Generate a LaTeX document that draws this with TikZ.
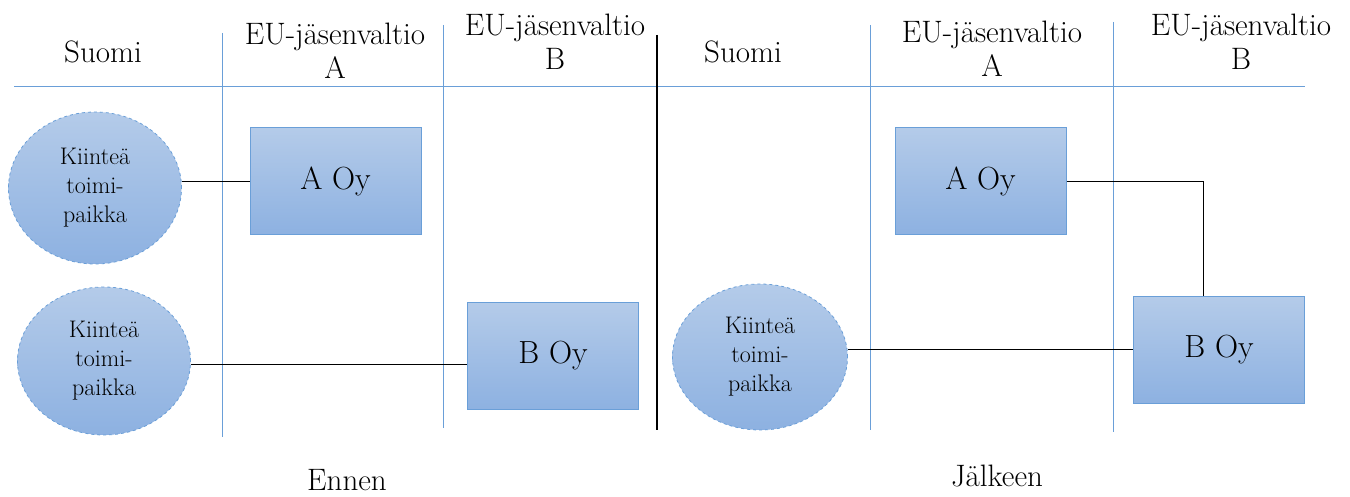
\documentclass[tikz,border=0pt]{standalone}
\usepackage{tikz}
\usetikzlibrary{shapes.geometric}
\usetikzlibrary{positioning}
\definecolor{gridblue}{HTML}{6A9FD8}
\definecolor{boxtop}{HTML}{B4CBE9}
\definecolor{boxbot}{HTML}{8DB1E1}
\tikzset{grid/.style = {draw=gridblue, line width = 1}}
\tikzset{yhtio/.style = {draw=gridblue, line width = 1, top color=boxtop, bottom color=boxbot,
                         minimum width = 171, minimum height = 107, inner sep = 0,
                         font=\fontsize{32}{36}\selectfont}}
\tikzset{kiintea/.style = {ellipse, draw=gridblue, dashed, line width = 0.8, top color=boxtop,
                           bottom color=boxbot, inner sep = 0, align=center,
                           font=\fontsize{24}{29}\selectfont}}
\tikzset{otsikko/.style = {align=center, font=\fontsize{31}{34}\selectfont}}
\tikzset{yhteys/.style = {draw=black, line width = 1}}

\begin{document}
\begin{tikzpicture}[x=1pt, y=-1pt]
      \useasboundingbox (0, 0) rectangle (1350, 497);
      % ruudukko
      \draw [grid] (14, 87) -- (1305, 87);
      \draw [grid] (222, 33) -- (222, 437);
      \draw [grid] (443, 25) -- (443, 428);
      \draw [grid] (870, 25) -- (870, 430);
      \draw [grid] (1113, 22) -- (1113, 432);
      \draw [line width = 2.5] (657, 35) -- (657, 430);
      % otsikot
      \node [otsikko] (suomiA) at (103, 52) {Suomi};
      \node [otsikko] (valtioAA) at (335, 51) {EU-jäsenvaltio\\A};
      \node [otsikko] (valtioAB) at (555, 42) {EU-jäsenvaltio\\B};
      \node [otsikko] (suomiB) at (743, 52) {Suomi};
      \node [otsikko] (valtioBA) at (992, 49) {EU-jäsenvaltio\\A};
      \node [otsikko] (valtioBB) at (1241, 42) {EU-jäsenvaltio\\B};
      % ennen
      \node [kiintea, minimum width = 173, minimum height = 152] (kp1) at (95, 188) {Kiinteä\\toimi-\\paikka};
      \node [kiintea, minimum width = 173, minimum height = 148] (kp2) at (104, 361) {Kiinteä\\toimi-\\paikka};
      \node [yhtio] (aoy1) at (335.5, 181.5) {A Oy};
      \node [yhtio] (boy1) at (553, 356) {B Oy};
      \draw [yhteys] (kp1.east |- aoy1.west) -- (aoy1.west);
      \draw [yhteys] (kp2.east) ++(0, 3) -- (boy1.west |- 0, 364);
      % jalkeen
      \node [kiintea, minimum width = 175, minimum height = 146] (kp3) at (760, 357) {Kiinteä\\toimi-\\paikka};
      \node [yhtio] (aoy2) at (980.5, 181.5) {A Oy};
      \node [yhtio] (boy2) at (1219, 350) {B Oy};
      \coordinate (kulma) at (1203, 182);
      \draw [yhteys] (aoy2.east |- kulma) -- (kulma) -- (kulma |- boy2.north);
      \draw [yhteys] (kp3.east |- 0, 349) -- (boy2.west |- 0, 349);
      % alaotsikot
      \node [otsikko] (ennen) at (347, 480) {Ennen};
      \node [otsikko] (jalkeen) at (997, 476) {Jälkeen};
\end{tikzpicture}
\end{document}
